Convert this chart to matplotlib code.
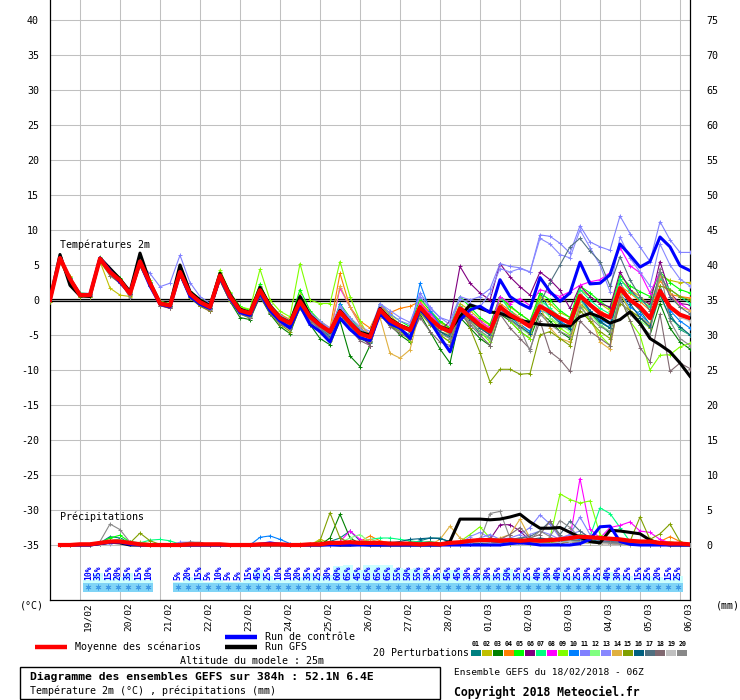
import matplotlib
matplotlib.use("Agg")
import matplotlib.pyplot as plt
from matplotlib.patches import Rectangle
import numpy as np

plt.rcParams['font.family'] = ['DejaVu Sans Mono']

# time steps: every 6 h from 18/02 06Z, 384 h
steps = list(range(0, 385, 6))
rain_steps = steps[1:]

day_hours = [18 + 24 * k for k in range(16)]
day_labels = ["19/02", "20/02", "21/02", "22/02", "23/02", "24/02", "25/02", "26/02",
              "27/02", "28/02", "01/03", "02/03", "03/03", "04/03", "05/03", "06/03"]

# 2m temperature (degC)
temp_mean = [0.0, 6.0, 3.0, 0.7, 0.7, 5.9, 4.0, 2.8, 0.9, 5.5, 2.4, -0.5, -0.8,
             4.0, 0.9, -0.3, -1.0, 3.5, 0.5, -1.5, -1.9, 1.4, -1.0, -2.6, -3.3, -0.2,
             -2.4, -3.6, -4.5, -1.7, -3.3, -4.8, -5.3, -1.4, -2.9, -3.7, -4.3, -1.0, -2.6,
             -3.9, -4.5, -1.2, -2.4, -3.6, -4.5, -1.0, -2.1, -2.9, -3.8, -0.9, -1.7, -2.6,
             -3.3, 0.6, -0.7, -1.9, -2.5, 1.7, 0.0, -1.0, -2.6, 1.3, -1.0, -2.1, -2.6]
temp_ctrl = [0.0, 6.0, 3.0, 0.8, 0.8, 6.0, 4.2, 2.5, 1.0, 5.3, 2.0, -0.6, -1.0,
             3.8, 0.5, -0.6, -1.2, 3.2, 0.2, -1.8, -2.2, 1.0, -1.5, -3.0, -4.0, -0.8,
             -3.5, -4.5, -6.0, -2.6, -4.2, -5.4, -5.8, -2.0, -3.4, -4.0, -5.5, -1.2, -3.0,
             -5.3, -7.4, -2.9, -1.4, -0.9, -1.8, 2.9, 0.5, -0.5, -1.2, 3.2, 1.2, -0.2,
             1.0, 5.4, 2.3, 2.4, 3.6, 8.0, 6.4, 4.7, 5.5, 9.0, 7.6, 4.9, 4.2]
temp_gfs = [0.0, 6.5, 2.1, 0.6, 0.5, 6.0, 4.5, 3.0, 1.2, 6.7, 2.5, -0.4, -0.7,
            5.0, 1.2, 0.0, -0.8, 3.8, 0.8, -1.3, -1.8, 1.8, -0.8, -2.5, -3.2, 0.5,
            -2.2, -3.5, -4.6, -1.5, -3.2, -4.6, -5.0, -1.2, -2.7, -3.6, -4.2, -1.3, -2.8,
            -3.8, -4.3, -2.4, -0.7, -1.2, -1.7, -1.9, -2.4, -2.9, -3.2, -3.5, -3.6, -3.7,
            -3.7, -2.4, -1.9, -2.4, -3.3, -2.8, -1.7, -3.3, -5.5, -6.4, -7.4, -9.0, -10.9]

p01 = [0.0, 5.8, 2.8, 0.8, 0.9, 5.6, 3.8, 2.6, 0.8, 5.2, 2.2, -0.6, -1.0,
       3.6, 0.6, -0.5, -1.3, 3.0, 0.2, -1.8, -2.3, 1.0, -1.5, -3.0, -3.8, -0.8,
       -2.8, -4.0, -5.2, -2.0, -3.8, -5.5, -6.2, -1.8, -3.5, -4.5, -5.2, -0.8, -3.0,
       -4.5, -5.5, -1.5, -3.0, -4.8, -5.5, -0.5, -2.5, -3.5, -4.5, 1.0, -1.5, -3.0,
       -4.0, 0.2, -1.8, -3.2, -4.0, 2.5, 0.0, -1.5, -3.5, 2.0, -2.0, -4.2, -5.0]
p02 = [-0.3, 5.5, 3.5, 0.5, 0.4, 5.5, 1.7, 0.7, 0.5, 4.8, 2.0, -0.3, -0.9,
       3.5, 0.8, -0.4, -1.2, 2.8, 0.3, -1.4, -2.0, 2.0, -0.5, -2.2, -3.0, 0.8,
       -1.8, -3.2, -5.0, -1.2, -3.0, -4.0, -5.0, -0.8, -2.2, -3.5, -4.0, -0.5, -1.8,
       -3.2, -4.2, -0.5, -1.5, -2.8, -3.6, 0.3, -1.0, -2.0, -3.0, 0.5, -0.5, -1.8,
       -2.5, 1.5, 0.5, -0.5, -1.5, 3.0, 1.5, 0.5, -0.8, 3.5, 2.8, 2.5, 2.5]
p03 = [0.0, 6.0, 3.2, 0.9, 0.8, 6.0, 4.3, 3.0, 1.0, 5.5, 2.5, -0.5, -0.9,
       3.5, 0.4, -0.8, -1.5, 2.8, -0.2, -2.5, -2.8, 0.5, -2.0, -3.8, -4.8, -1.0,
       -3.5, -5.5, -6.4, -3.0, -8.0, -9.5, -6.5, -1.5, -3.5, -5.0, -6.0, -2.0, -4.5,
       -7.0, -9.0, -2.5, -4.0, -5.5, -6.5, -2.0, -3.0, -4.5, -5.5, -1.8, -3.0, -4.5,
       -5.5, -0.5, -1.8, -3.5, -4.8, 0.8, -1.5, -3.5, -5.0, -0.5, -4.0, -6.0, -7.0]
p04 = [0.0, 5.9, 3.2, 0.9, 0.7, 5.8, 4.0, 3.0, 1.0, 5.6, 2.6, -0.2, -0.6,
       4.2, 1.2, 0.0, -0.8, 3.8, 0.8, -1.2, -1.6, 1.8, -0.8, -2.0, -2.8, 0.0,
       -2.0, -3.0, -4.0, 3.8, -1.0, -3.0, -4.0, -1.0, -1.8, -1.2, -0.9, -0.2, -1.8,
       -3.0, -4.0, -0.8, -2.0, -3.2, -4.0, -0.5, -1.5, -2.5, -3.5, -0.8, -1.5, -2.5,
       -3.2, 0.8, -0.5, -1.5, -2.5, 2.0, 1.0, -0.2, -1.5, 2.8, 0.8, 0.5, 0.3]
p05 = [0.0, 6.0, 3.3, 1.0, 0.9, 6.0, 4.5, 3.2, 1.2, 5.2, 2.6, -0.2, -0.6,
       4.5, 1.0, -0.2, -0.8, 4.0, 1.0, -0.9, -1.5, 2.3, -0.8, -2.2, -3.0, 1.5,
       -1.5, -3.0, -4.5, -0.5, -2.5, -4.2, -5.0, -0.5, -2.0, -3.0, -3.8, 0.2, -1.5,
       -3.0, -4.0, 0.5, -1.0, -2.5, -3.5, 0.5, -0.8, -2.0, -3.0, 1.0, 0.0, -1.5,
       -2.5, 2.0, 1.0, -0.2, -1.2, 3.5, 2.0, 1.2, 0.5, 4.0, 2.5, 1.5, 1.0]
p06 = [0.0, 6.0, 3.0, 0.8, 0.6, 5.8, 3.8, 2.8, 0.8, 5.5, 2.2, -0.6, -0.9,
       3.8, 0.7, -0.4, -1.1, 3.3, 0.3, -1.6, -2.0, 1.2, -1.2, -2.8, -3.5, -0.5,
       -2.5, -3.8, -4.6, -2.0, -3.5, -5.0, -6.5, -1.8, -3.2, -4.2, -5.8, -1.5, -3.0,
       -4.5, -3.0, 4.8, 2.4, 1.0, 0.0, 5.2, 3.3, 1.9, 0.7, 4.0, 2.9, 1.4,
       -1.2, 2.0, 0.5, -0.5, -1.0, 4.0, 1.5, 0.0, -0.5, 5.5, 1.0, -0.5, -0.7]
p07 = [0.0, 6.1, 3.2, 0.8, 0.7, 6.0, 4.2, 2.9, 1.0, 5.8, 2.6, -0.4, -0.7,
       4.2, 1.0, -0.2, -0.9, 3.6, 0.6, -1.4, -1.8, 1.6, -0.9, -2.4, -3.2, 0.0,
       -2.2, -3.4, -4.3, -1.5, -3.0, -4.5, -5.0, -1.2, -2.8, -3.5, -4.0, -0.8, -2.4,
       -3.6, -4.2, -0.8, -2.5, -3.8, -4.8, 0.5, -1.5, -2.8, -3.8, 0.0, -1.2, -2.4,
       -3.0, 1.5, 0.0, -1.2, -2.0, 3.0, 1.2, 0.0, -1.0, 3.2, 1.5, 0.5, -0.5]
p08 = [0.0, 5.9, 2.9, 0.6, 0.6, 5.8, 4.0, 2.7, 0.8, 5.3, 2.2, -0.8, -1.2,
       3.8, 0.4, -0.8, -1.6, 3.2, 0.0, -1.8, -2.2, 1.0, -1.3, -2.8, -3.8, -0.5,
       -2.5, -3.8, -4.8, 1.7, -1.0, -3.5, -5.0, -1.0, -2.6, -3.5, -4.2, -0.5, -2.0,
       -3.5, -4.5, -1.0, -2.0, -3.0, -4.0, 0.5, -0.5, 0.2, -0.8, 1.5, 1.0, 0.5,
       1.2, 2.1, 2.6, 2.9, 3.9, 7.5, 4.9, 3.9, 1.0, 4.0, 0.5, -0.5, -1.5]
p09 = [0.0, 6.0, 3.1, 0.9, 0.8, 6.1, 4.3, 3.0, 1.1, 5.6, 2.8, -0.2, -0.5,
       4.6, 1.3, 0.2, -0.6, 4.3, 1.1, -1.0, -1.3, 4.4, 0.0, -1.6, -2.4, 5.2,
       0.0, -0.5, -0.5, 5.5, 0.5, -3.0, -5.5, -2.0, -3.0, -4.5, -5.8, -1.5, -3.5,
       -5.0, -6.0, -2.0, -3.0, -4.5, -6.0, -1.0, -3.0, -4.5, -5.5, 0.0, -2.5, -4.0,
       -5.0, -0.5, -3.0, -5.0, -6.5, 0.5, -3.0, -5.0, -10.0, -7.9, -7.8, -6.7, -6.2]
p10 = [0.0, 6.0, 3.0, 0.7, 0.8, 6.0, 4.2, 2.8, 0.9, 5.6, 2.4, -0.6, -0.9,
       4.0, 0.6, -0.6, -1.3, 3.4, 0.2, -1.8, -2.5, 1.6, -1.3, -3.0, -4.0, 0.5,
       -2.5, -4.0, -5.5, -0.5, -3.0, -5.0, -6.0, -1.5, -3.2, -4.2, -5.0, 2.4, -1.5,
       -3.5, -5.0, -1.5, -2.8, -4.0, -5.0, -1.5, -2.5, -3.5, -4.5, -1.5, -2.0, -3.0,
       -4.0, 0.0, -1.5, -2.8, -3.5, 1.0, -1.0, -2.0, -3.5, 1.5, -1.5, -3.0, -4.0]
p11 = [0.0, 6.0, 3.1, 0.8, 0.8, 6.0, 4.1, 2.9, 1.0, 5.0, 3.8, 1.9, 2.4,
       6.4, 2.5, 0.5, -0.5, 3.5, 0.8, -1.3, -1.8, 1.5, -0.8, -2.4, -3.0, 0.3,
       -2.0, -3.2, -4.2, -1.0, -2.8, -4.2, -4.8, -0.5, -2.0, -3.0, -3.5, 1.0, -1.0,
       -2.5, -3.0, 0.5, 0.0, 0.5, 1.6, 5.2, 4.8, 4.6, 4.0, 9.3, 9.1, 8.1,
       6.7, 10.6, 8.3, 7.6, 7.1, 12.0, 9.5, 7.6, 5.5, 11.2, 8.6, 6.8, 6.8]
p12 = [0.0, 6.0, 3.0, 0.7, 0.7, 5.9, 4.0, 2.8, 0.9, 5.4, 2.3, -0.5, -0.8,
       4.0, 0.9, -0.3, -1.0, 3.4, 0.4, -1.5, -1.9, 1.5, -1.0, -2.6, -3.3, -0.2,
       -2.4, -3.6, -4.5, -1.5, -3.2, -4.6, -5.2, -1.2, -2.6, -3.5, -4.2, -1.0, -2.6,
       -4.0, -5.0, -1.5, -3.0, -4.5, -5.5, -1.0, -2.5, -4.0, -5.0, -1.0, -2.5, -3.5,
       -4.5, 0.0, -2.0, -3.5, -4.5, 1.0, -1.5, -3.0, -4.0, 0.5, -2.5, -4.0, -5.0]
p13 = [0.0, 6.0, 3.0, 0.8, 0.7, 5.9, 4.0, 2.8, 0.9, 5.5, 2.5, -0.4, -0.7,
       4.2, 1.0, -0.2, -1.0, 3.6, 0.7, -1.3, -1.8, 1.8, -0.6, -2.2, -3.0, 0.6,
       -1.8, -3.0, -4.0, -0.8, -2.5, -3.8, -4.5, -0.5, -1.5, -2.5, -3.2, 0.5, -1.2,
       -2.5, -3.5, 0.2, -0.5, -1.0, 1.0, 4.5, 4.0, 4.5, 4.0, 8.8, 8.0, 6.5,
       6.0, 10.0, 7.5, 5.0, 1.2, 9.0, 6.0, 4.0, 2.0, 8.0, 5.0, 3.0, 2.0]
p14 = [0.0, 5.8, 2.9, 0.6, 0.5, 5.7, 3.8, 2.6, 0.7, 5.3, 2.2, -0.7, -1.0,
       3.8, 0.6, -0.6, -1.2, 3.2, 0.2, -1.7, -2.1, 1.2, -1.2, -2.8, -3.6, -0.4,
       -2.6, -3.8, -4.6, 2.0, -1.0, -3.5, -5.0, -2.5, -7.6, -8.3, -7.1, -1.5, -3.0,
       -4.5, -5.0, -1.5, -3.0, -4.0, -5.0, -1.0, -2.0, -3.5, -5.0, -1.0, -4.0, -5.5,
       -6.0, -0.5, -2.0, -6.0, -7.0, 1.0, -1.5, -2.5, -3.5, 3.5, 1.0, -1.0, -1.5]
p15 = [-0.3, 5.5, 2.5, 0.5, 0.5, 5.5, 3.5, 2.4, 0.6, 5.0, 2.0, -0.8, -1.2,
       3.5, 0.3, -0.9, -1.6, 2.8, -0.2, -2.0, -2.6, 0.8, -1.8, -3.5, -4.5, -1.2,
       -3.2, -4.5, -5.8, -2.5, -4.0, -5.5, -6.0, -2.0, -3.6, -4.5, -5.0, -1.8, -3.5,
       -5.0, -6.0, -1.0, -4.0, -7.5, -11.7, -9.9, -9.9, -10.6, -10.5, -5.0, -4.5, -5.5,
       -6.5, -1.5, -3.0, -4.5, -5.5, -0.5, -1.5, -2.5, -4.0, 2.0, 1.5, 0.5, 0.0]
p16 = [0.0, 6.0, 3.0, 0.8, 0.8, 5.9, 4.1, 2.8, 0.9, 5.5, 2.3, -0.6, -0.9,
       3.9, 0.8, -0.5, -1.2, 3.4, 0.3, -1.7, -2.2, 1.2, -1.4, -3.0, -3.8, -0.6,
       -2.8, -4.0, -5.0, -2.0, -3.8, -5.3, -5.8, -1.8, -3.3, -4.2, -5.0, -1.5, -3.2,
       -4.5, -5.2, -1.5, -2.8, -4.0, -5.0, -1.5, -2.8, -3.8, -4.8, -0.5, -2.0, -3.3,
       -4.2, 0.5, -1.5, -3.0, -4.0, 1.5, -0.5, -2.5, -3.8, 0.8, -2.5, -3.8, -5.0]
p17 = [0.0, 6.1, 3.1, 0.9, 0.8, 6.0, 4.0, 2.7, 0.9, 5.5, 2.4, -0.5, -0.8,
       4.0, 0.8, -0.4, -1.1, 3.6, 0.4, -1.5, -2.0, 1.4, -1.0, -2.6, -3.4, -0.1,
       -2.3, -3.6, -4.6, -1.6, -3.4, -4.8, -5.4, -1.5, -3.0, -3.8, -4.5, -1.2, -2.8,
       -4.0, -4.8, -1.2, -2.6, -3.7, -4.6, -1.0, -2.2, -3.0, -3.0, -0.5, 2.5, 5.0,
       7.6, 8.8, 7.0, 5.5, 2.0, 6.2, 2.9, 0.5, -1.5, 4.0, 0.5, -1.0, -2.0]
p18 = [0.0, 5.9, 2.9, 0.7, 0.6, 5.8, 3.5, 2.4, 0.7, 5.0, 2.0, -0.8, -1.1,
       3.7, 0.5, -0.7, -1.4, 3.0, 0.0, -2.0, -2.5, 0.5, -1.8, -3.4, -4.2, -1.0,
       -3.0, -4.2, -5.5, -2.5, -4.2, -5.8, -6.5, -2.0, -3.8, -4.8, -5.5, -2.5, -4.5,
       -6.0, -6.5, -2.0, -3.5, -5.0, -6.5, -2.0, -4.0, -5.5, -7.0, -3.0, -7.4, -8.5,
       -10.2, -3.0, -4.5, -5.5, -6.5, 0.5, -3.0, -6.8, -8.8, -2.0, -10.2, -9.0, -9.8]
p19 = [0.0, 6.0, 3.0, 0.8, 0.8, 6.0, 4.0, 2.9, 1.0, 5.6, 2.5, -0.4, -0.7,
       4.5, 1.0, -0.2, -0.9, 3.5, 0.6, -1.4, -1.8, 1.6, -0.8, -2.4, -3.2, 0.2,
       -2.2, -3.4, -4.3, -1.4, -3.1, -4.5, -5.0, -1.2, -2.7, -3.5, -4.1, -0.8, -2.4,
       -3.6, -4.3, -1.0, -2.2, -3.3, -4.2, -0.8, -1.8, -2.6, -3.5, -0.5, -1.5, -2.5,
       -3.2, 1.0, -0.5, -1.8, -2.5, 2.0, 0.2, -1.0, -2.5, 1.5, -1.0, -2.5, -3.0]
p20 = [0.0, 6.0, 2.9, 0.7, 0.7, 5.9, 3.9, 2.7, 0.3, 5.0, 2.2, -0.6, -1.0,
       3.6, 0.5, -0.6, -1.3, 2.9, 0.0, -1.9, -2.4, 0.8, -1.6, -3.2, -4.0, -0.8,
       -2.8, -4.0, -5.0, -2.0, -3.8, -5.2, -5.8, -1.8, -3.4, -4.4, -5.0, -1.6, -3.4,
       -4.8, -5.5, -1.8, -3.2, -4.4, -5.4, -1.5, -2.8, -4.0, -7.3, -2.0, -3.5, -4.5,
       -5.2, -1.0, -2.5, -3.8, -4.5, 0.0, -2.0, -3.5, -5.0, 4.5, -3.0, -5.5, -6.5]

# 6-hourly precipitation (mm), from step 1
rain_mean = [0.0, 0.0, 0.1, 0.1, 0.3, 0.5, 0.5, 0.3, 0.1, 0.0, 0.0, 0.0, 0.0, 0.1, 0.1, 0.1,
             0.1, 0.0, 0.0, 0.0, 0.1, 0.1, 0.1, 0.0, 0.0, 0.1, 0.1, 0.3, 0.3, 0.4, 0.3, 0.3,
             0.3, 0.2, 0.2, 0.2, 0.1, 0.2, 0.1, 0.3, 0.4, 0.6, 0.7, 0.7, 0.6, 0.7, 0.6, 0.7,
             0.6, 0.7, 0.8, 1.0, 1.2, 1.1, 1.0, 0.9, 0.8, 0.6, 0.5, 0.5, 0.3, 0.2, 0.2, 0.1]
rain_ctrl = [0, 0, 0, 0, 0.2, 0.4, 0.4, 0.1, 0, 0, 0, 0, 0, 0, 0, 0,
             0, 0, 0, 0, 0.1, 0.3, 0.1, 0, 0, 0, 0, 0, 0, 0, 0, 0,
             0, 0, 0, 0, 0, 0, 0, 0, 0, 0, 0, 0, 0, 0.2, 0.3, 0.2,
             0, 0, 0, 0, 0.2, 0.8, 2.6, 2.7, 0.5, 0.1, 0, 0, 0, 0, 0, 0]
rain_gfs = [0, 0, 0, 0, 0.2, 0.4, 0.3, 0, 0, 0, 0, 0, 0, 0, 0, 0,
            0, 0, 0, 0, 0, 0, 0, 0, 0, 0, 0, 0.1, 0, 0, 0.1, 0,
            0, 0, 0, 0, 0, 0, 0, 0.5, 3.7, 3.7, 3.7, 3.6, 3.7, 4.0, 4.4, 3.3,
            2.4, 2.4, 2.5, 1.8, 1.1, 0.5, 0.3, 2.1, 2.0, 1.8, 1.6, 0.7, 0.2, 0, 0, 0]
r01 = [0, 0, 0, 0.1, 0.3, 1.2, 1.0, 0.3, 0.1, 0, 0, 0, 0, 0, 0, 0,
       0, 0, 0, 0, 0, 0.1, 0, 0, 0, 0, 0, 0.5, 1.0, 2.0, 0.6, 0.1,
       0.2, 0.4, 0.3, 0.2, 0.6, 1.0, 1.0, 0.4, 0.3, 0.2, 0.5, 0.3, 0.3, 0.2, 0.5, 0.7,
       0.8, 0.5, 0.8, 1.0, 1.5, 0.8, 0.5, 0.6, 0.4, 0.3, 0.2, 0.1, 0, 0, 0, 0]
r02 = [0, 0, 0, 0, 0.2, 0.5, 0.5, 0.2, 0.4, 0.2, 0, 0, 0, 0, 0, 0,
       0, 0, 0, 0, 0, 0, 0, 0, 0.2, 0, 0.8, 0.3, 0.2, 0.1, 0, 0,
       0, 0, 0, 0, 0, 0, 0, 0.3, 0.2, 0.5, 1.0, 0.4, 0.2, 0.1, 0.3, 0.2,
       0.2, 0.3, 0.2, 0.5, 0.4, 0.3, 0.2, 0.2, 0.1, 0, 0, 0.2, 0.3, 0.5, 0.2, 0]
r03 = [0, 0, 0, 0, 0.3, 0.6, 0.8, 0.3, 0, 0, 0, 0, 0, 0, 0, 0,
       0, 0, 0, 0, 0, 0, 0, 0, 0, 0, 0, 1.0, 4.4, 1.0, 0.2, 0,
       0, 0, 0, 0, 0, 0, 0, 0, 0, 0.3, 0.5, 0.3, 0.4, 0.6, 0.4, 0.3,
       0.5, 0.8, 0.3, 0.5, 0.6, 0.4, 0.3, 0.6, 0.2, 0.1, 0.1, 0.1, 0, 0, 0, 0]
r04 = [0, 0, 0, 0, 0.2, 0.4, 0.3, 0.1, 0, 0, 0, 0, 0, 0, 0, 0,
       0, 0, 0, 0, 0, 0, 0, 0, 0, 0.2, 0, 0.3, 0.5, 0.3, 0.5, 1.3,
       0.6, 0.3, 0.2, 0.1, 0, 0, 0, 0.2, 0.4, 0.3, 0.2, 0.5, 0.8, 0.5, 0.4, 0.3,
       0.3, 0.4, 0.5, 0.6, 0.4, 0.3, 0.2, 0.3, 0.2, 0.2, 0.1, 0.3, 0.5, 1.2, 0.5, 0]
r05 = [0, 0, 0, 0, 0.3, 1.0, 1.4, 0.4, 0, 0, 0, 0, 0, 0, 0, 0,
       0, 0, 0, 0, 0, 0, 0, 0, 0, 0, 0, 0, 0.3, 0.5, 0.2, 0,
       0, 0, 0, 0, 0, 0, 0, 0, 0.2, 0.4, 0.6, 0.3, 0.2, 0.3, 0.2, 0.4,
       0.5, 0.3, 0.6, 0.8, 0.5, 0.4, 0.3, 0.2, 0.2, 0.1, 0, 0, 0, 0, 0, 0]
r06 = [0, 0, 0, 0, 0.2, 0.3, 0.3, 0.1, 0, 0, 0, 0, 0, 0, 0, 0,
       0, 0, 0, 0, 0, 0, 0, 0, 0, 0, 0, 0, 0.2, 0.3, 0.1, 0,
       0, 0, 0, 0, 0, 0, 0, 0, 0.3, 0.2, 0.4, 0.8, 2.9, 2.9, 2.0, 0.6,
       0.4, 0.3, 0.2, 0.5, 0.3, 0.4, 0.2, 0.2, 0.1, 0.1, 0, 0, 0, 0, 0, 0]
r07 = [0, 0, 0, 0, 0.3, 0.6, 0.7, 0.5, 0.3, 0.7, 0.8, 0.6, 0.1, 0, 0, 0,
       0, 0, 0, 0, 0, 0, 0, 0, 0, 0, 0.2, 0.3, 0.2, 0.3, 0.4, 0.8,
       1.0, 1.0, 0.8, 0.6, 0.4, 0.5, 0.3, 0.2, 0.2, 0.3, 0.4, 0.3, 0.3, 0.6, 1.0, 0.5,
       0.4, 0.6, 0.5, 0.8, 1.5, 1.2, 5.3, 4.5, 2.5, 0.5, 0.2, 0.1, 0, 0, 0, 0]
r08 = [0, 0, 0, 0, 0.2, 0.4, 0.5, 0.2, 0, 0, 0, 0, 0, 0, 0, 0,
       0, 0, 0, 0, 0, 0, 0, 0, 0, 0, 0, 0, 0.5, 2.0, 0.8, 0.3,
       0.2, 0.2, 0.1, 0.1, 0, 0, 0, 0, 0.2, 0.3, 0.4, 0.3, 0.4, 0.3, 0.3, 0.5,
       0.6, 0.8, 0.5, 1.0, 9.5, 2.3, 1.0, 2.5, 2.8, 3.3, 2.0, 1.8, 0.8, 0.3, 0.2, 0]
r09 = [0, 0, 0, 0, 0.2, 0.5, 0.6, 0.2, 0, 0, 0, 0, 0, 0, 0, 0,
       0, 0, 0, 0, 0, 0, 0, 0, 0, 0, 0, 0.2, 0.3, 0.1, 0, 0,
       0, 0, 0, 0, 0, 0, 0, 0.3, 0.5, 1.5, 2.6, 1.0, 0.5, 0.3, 0.4, 0.3,
       0.5, 1.0, 7.3, 6.5, 6.0, 6.3, 1.5, 0.5, 0.3, 0.2, 0.1, 0, 0, 0, 0, 0]
r10 = [0, 0, 0, 0, 0.2, 0.4, 0.5, 0.2, 0, 0, 0, 0, 0, 0, 0, 0,
       0, 0, 0, 0, 1.1, 1.3, 0.8, 0.2, 0, 0, 0, 0, 0.2, 0.3, 0.2, 0,
       0, 0, 0, 0, 0, 0, 0, 0, 0.2, 0.5, 0.3, 0.2, 0.3, 0.4, 0.6, 0.4,
       0.3, 0.5, 0.4, 0.6, 0.8, 0.5, 0.4, 0.3, 0.2, 0.1, 0, 0, 0, 0, 0, 0]
r11 = [0, 0, 0, 0, 0.1, 0.3, 0.3, 0.1, 0, 0, 0, 0, 0.4, 0.4, 0.3, 0,
       0, 0, 0, 0, 0, 0, 0, 0, 0, 0, 0, 0, 0.2, 0.3, 0.2, 0.1,
       0, 0, 0, 0, 0, 0, 0, 0, 0.3, 0.5, 1.0, 1.5, 0.8, 1.0, 1.5, 2.5,
       4.3, 3.0, 1.0, 1.5, 4.0, 1.5, 0.8, 0.6, 0.4, 0.3, 0.2, 0.1, 0, 0, 0, 0]
r12 = [0, 0, 0, 0, 0.2, 0.5, 0.8, 0.3, 0, 0, 0, 0, 0, 0, 0, 0,
       0, 0, 0, 0, 0, 0, 0, 0, 0, 0, 0, 0, 0.3, 1.0, 1.5, 0.4,
       0.2, 0.1, 0, 0, 0, 0, 0, 0, 0.2, 0.3, 0.2, 0.1, 0.2, 0.3, 0.2, 0.2,
       0.3, 0.4, 0.6, 0.5, 0.5, 0.3, 0.2, 0.3, 0.2, 0.1, 0, 0, 0, 0, 0, 0]
r13 = [0, 0, 0, 0, 0.1, 0.2, 0.3, 0.1, 0, 0, 0, 0, 0.3, 0.3, 0.2, 0,
       0, 0, 0, 0, 0, 0, 0, 0, 0, 0, 0, 0, 0.1, 0.2, 0.1, 0,
       0, 0, 0, 0, 0, 0, 0, 0, 0.2, 1.2, 1.8, 1.0, 0.6, 0.8, 1.0, 1.5,
       2.0, 1.5, 0.8, 1.5, 2.0, 1.0, 0.6, 0.4, 0.3, 0.2, 0.1, 0.1, 0, 0, 0, 0]
r14 = [0, 0, 0, 0, 0.2, 0.3, 0.3, 0.1, 0, 0, 0, 0, 0, 0, 0, 0,
       0, 0, 0, 0, 0, 0, 0, 0, 0, 0, 0, 0, 0.2, 0.3, 0.5, 0.8,
       0.4, 0.2, 0.1, 0, 0, 0, 0.8, 2.7, 1.0, 0.5, 0.8, 0.6, 1.0, 1.5, 3.7, 1.0,
       0.6, 0.5, 0.4, 0.6, 0.5, 0.4, 0.3, 0.2, 0.2, 0.1, 0, 0, 0, 0, 0, 0]
r15 = [0, 0, 0, 0, 0.1, 0.3, 0.4, 0.3, 1.7, 0.6, 0.1, 0, 0, 0, 0, 0,
       0, 0, 0, 0, 0, 0, 0, 0, 0, 0, 0.6, 4.6, 1.0, 0.3, 0.1, 0,
       0, 0, 0, 0, 0, 0, 0, 0, 0.2, 0.3, 0.2, 0.2, 0.3, 0.2, 0.4, 0.3,
       0.3, 0.4, 0.3, 0.5, 0.4, 0.3, 0.2, 0.3, 0.2, 0.5, 4.0, 0.8, 1.6, 3.0, 0.5, 0]
r16 = [0, 0, 0, 0, 0.2, 0.4, 0.5, 0.2, 0, 0, 0, 0, 0, 0, 0, 0,
       0, 0, 0, 0, 0, 0, 0, 0, 0, 0, 0, 0, 0.3, 0.5, 0.2, 0.1,
       0.2, 0.3, 0.5, 0.8, 0.9, 1.0, 0.9, 0.5, 0.3, 0.2, 0.3, 0.4, 0.3, 0.5, 0.6, 0.8,
       1.0, 0.8, 0.6, 0.5, 0.6, 0.5, 0.4, 0.3, 0.2, 0.1, 0, 0, 0, 0, 0, 0]
r17 = [0, 0, 0, 0, 0.2, 0.5, 0.6, 0.2, 0, 0, 0, 0, 0, 0, 0, 0,
       0, 0, 0, 0, 0, 0, 0, 0, 0, 0, 0, 0, 0.2, 0.4, 0.2, 0,
       0, 0, 0, 0, 0, 0, 0, 0, 0.2, 0.3, 0.5, 0.6, 0.5, 0.8, 1.0, 1.2,
       2.0, 3.4, 1.5, 3.4, 2.0, 1.0, 0.6, 0.5, 0.4, 0.2, 0.1, 0, 0, 0, 0, 0]
r18 = [0, 0, 0, 0, 0.2, 0.3, 0.4, 0.1, 0, 0, 0, 0, 0.2, 0.4, 0.3, 0,
       0, 0, 0, 0, 0, 0, 0, 0, 0, 0, 0, 0, 0.1, 0.2, 0.1, 0,
       0, 0, 0, 0, 0, 0, 0, 0, 0.3, 0.4, 0.6, 1.0, 0.8, 1.5, 2.5, 1.0,
       1.5, 3.4, 1.2, 0.8, 0.6, 0.5, 0.4, 0.3, 0.2, 0.1, 0, 0, 0, 0, 0, 0]
r19 = [0, 0, 0, 0, 0.1, 0.3, 0.3, 0.1, 0, 0, 0, 0, 0, 0, 0, 0,
       0, 0, 0, 0, 0, 0, 0, 0, 0, 0, 0, 0, 0.1, 0.2, 0.1, 0,
       0, 0, 0, 0, 0, 0, 0, 0, 0.2, 0.3, 0.4, 0.3, 0.2, 0.3, 0.2, 0.3,
       0.3, 0.2, 0.4, 0.5, 0.4, 0.3, 0.2, 0.2, 0.1, 0, 0, 0, 0, 0, 0, 0]
r20 = [0, 0, 0, 0, 0.5, 3.0, 2.2, 0.4, 0, 0, 0, 0, 0, 0.4, 0.4, 0,
       0, 0, 0, 0, 0, 0, 0, 0, 0, 0, 0, 0, 0.2, 0.3, 0.1, 0,
       0, 0, 0, 0, 0, 0, 0, 0, 0.2, 0.5, 0.6, 4.5, 4.8, 1.0, 0.5, 0.8,
       2.0, 1.2, 3.5, 2.5, 1.0, 0.6, 0.4, 0.3, 0.2, 0.1, 0, 0, 0, 0, 0, 0]

pert_colors = ["#008080", "#c0c000", "#008000", "#ff8000", "#00ff00", "#800080", "#00ff80",
               "#ff00ff", "#80ff00", "#0080ff", "#8080ff", "#80ff80", "#8888ff", "#e0b040",
               "#80a000", "#006080", "#507080", "#806870", "#c0c0c0", "#888888"]

# snow probability (%) per time step
snow_steps = list(range(4, 11)) + list(range(13, 64))
snow_pct = [10, 35, 15, 20, 35, 15, 10,
            5, 20, 15, 5, 10, 5, 5, 15, 45, 25, 10, 10, 20, 35, 25, 30, 60, 65, 45, 65,
            65, 65, 55, 50, 55, 30, 35, 45, 45, 30, 30, 30, 35, 50, 35, 25, 40, 30, 40,
            25, 25, 30, 25, 40, 30, 25, 15, 25, 20, 15, 25]


def main():
    temps = [p01, p02, p03, p04, p05, p06, p07, p08, p09, p10,
             p11, p12, p13, p14, p15, p16, p17, p18, p19, p20]
    rains = [r01, r02, r03, r04, r05, r06, r07, r08, r09, r10,
             r11, r12, r13, r14, r15, r16, r17, r18, r19, r20]
    for t in temps + [temp_mean, temp_ctrl, temp_gfs]:
        assert len(t) == len(steps), len(t)
    for r in rains + [rain_mean, rain_ctrl, rain_gfs]:
        assert len(r) == len(rain_steps), len(r)
    assert len(snow_steps) == len(snow_pct)

    fig = plt.figure(figsize=(7.4, 7.0), dpi=100)
    ax = fig.add_axes([50 / 740, 100 / 700, 640 / 740, 600 / 700])
    ax.set_xlim(0, 384)
    ax.set_ylim(-300 / 7, 300 / 7)

    yt = list(range(-35, 45, 5))
    ax.set_yticks(yt)
    ax.set_yticklabels([str(v) for v in yt])
    ax.set_xticks(day_hours)
    ax.tick_params(axis='x', length=0, labelbottom=False)
    ax.tick_params(axis='y', length=0, pad=8, labelsize=7.2)
    ax.grid(True, color='#c0c0c0', lw=0.75, zorder=0)
    ax.set_axisbelow(True)
    ax.spines['top'].set_visible(False)
    for s in ['left', 'right', 'bottom']:
        ax.spines[s].set_color('black')
        ax.spines[s].set_linewidth(0.9)

    ax2 = ax.twinx()
    ax2.set_ylim(ax.get_ylim())
    ax2.set_yticks(yt)
    ax2.set_yticklabels([str(v + 35) for v in yt])
    ax2.tick_params(axis='y', length=0, pad=12, labelsize=7.2)
    for s in ax2.spines.values():
        s.set_visible(False)

    # zero line
    ax.axhline(0.15, color='black', lw=0.9, zorder=2)
    ax.axhline(-0.2, color='black', lw=0.9, zorder=2)

    # snow probability strip
    sx = [6 * i - 1 for i in snow_steps]
    ax.bar(sx, [p * 0.04 for p in snow_pct], bottom=-40.43, width=6,
           color='#ccffff', zorder=1)
    ax.bar(sx, 1.25, bottom=-41.68, width=6, color='#80d4f6', zorder=1)
    ax.scatter(sx, [-41.05] * len(sx), marker=(6, 2, 0), s=14, color='#3f9be8',
               lw=0.6, zorder=2)
    for x, p in zip(sx, snow_pct):
        ax.text(x, -40.0, f"{p}%", rotation=90, ha='center', va='bottom',
                color='blue', fontsize=5.8, fontweight='bold', zorder=3)

    # temperatures: perturbations, GFS, control, mean
    for t, c in zip(temps, pert_colors):
        ax.plot(steps, t, color=c, lw=0.8, marker='+', ms=3, mew=0.7, zorder=3)
    ax.plot(steps, temp_gfs, color='black', lw=2.2, zorder=4)
    ax.plot(steps, temp_ctrl, color='#0000ff', lw=2.2, zorder=5)
    ax.plot(steps, temp_mean, color='#ff0000', lw=3.0, zorder=6)

    # precipitation drawn on -35 base
    for r, c in zip(rains, pert_colors):
        ax.plot(rain_steps, np.array(r) - 35, color=c, lw=0.8, marker='+', ms=3,
                mew=0.7, zorder=3)
    ax.plot(rain_steps, np.array(rain_gfs) - 35, color='black', lw=2.2, zorder=4)
    ax.plot(rain_steps, np.array(rain_ctrl) - 35, color='#0000ff', lw=2.2, zorder=5)
    ax.plot(rain_steps, np.array(rain_mean) - 35, color='#ff0000', lw=3.0, zorder=6)

    ax.text(6, 7.9, "Températures 2m", fontsize=7.2, va='center', ha='left', zorder=7)
    ax.text(6, -30.9, "Précipitations", fontsize=7.2, va='center', ha='left', zorder=7)

    # date labels under the axis
    trans = ax.get_xaxis_transform()
    for h, lab in zip(day_hours, day_labels):
        ax.text(h + 4.8, -0.004, lab, transform=trans, rotation=90, ha='center',
                va='top', fontsize=6.8, clip_on=False)

    # legend and captions in pixel coordinates
    lax = fig.add_axes([0, 0, 1, 1])
    lax.set_xlim(0, 740)
    lax.set_ylim(700, 0)
    lax.axis('off')
    lax.text(20, 606, "(°C)", fontsize=7.2, va='center', ha='left')
    lax.text(716, 606, "(mm)", fontsize=7.2, va='center', ha='left')

    lax.plot([35, 67], [647, 647], color='#ff0000', lw=3.2, solid_capstyle='butt')
    lax.text(75, 647, "Moyenne des scénarios", fontsize=7.2, va='center')
    lax.plot([225, 257], [637, 637], color='#0000ff', lw=3.2, solid_capstyle='butt')
    lax.text(265, 637, "Run de contrôle", fontsize=7.2, va='center')
    lax.plot([225, 257], [647, 647], color='black', lw=3.2, solid_capstyle='butt')
    lax.text(265, 647, "Run GFS", fontsize=7.2, va='center')
    lax.text(180, 661, "Altitude du modele : 25m", fontsize=7.2, va='center')
    lax.text(373, 653, "20 Perturbations", fontsize=7.1, va='center')

    for k, c in enumerate(pert_colors):
        x0 = 471 + 10.85 * k
        lax.add_patch(Rectangle((x0, 650), 10, 6, color=c, lw=0))
        lax.text(x0 + 5, 643.5, f"{k + 1:02d}", fontsize=4.8, fontweight='bold',
                 ha='center', va='center')

    lax.add_patch(Rectangle((20, 667), 420, 32, fill=False, ec='black', lw=1.0))
    lax.text(30, 677, "Diagramme des ensembles GEFS sur 384h : 52.1N 6.4E",
             fontsize=8.2, fontweight='bold', va='center')
    lax.text(30, 691, "Température 2m (°C) , précipitations (mm)", fontsize=7.2,
             va='center')
    lax.text(454, 672, "Ensemble GEFS du 18/02/2018 - 06Z", fontsize=6.8, va='center')
    lax.text(454, 692, "Copyright 2018 Meteociel.fr", fontsize=8.3,
             fontweight='bold', va='center')

    fig.savefig("out.png", dpi=100)


if __name__ == "__main__":
    main()
